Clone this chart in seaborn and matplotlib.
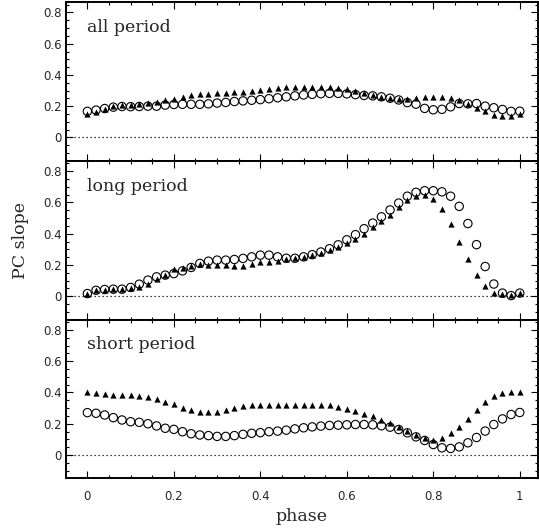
import matplotlib
matplotlib.use("Agg")
import matplotlib.pyplot as plt
import seaborn as sns
from matplotlib.ticker import MultipleLocator, FormatStrFormatter

phase = [0.00, 0.02, 0.04, 0.06, 0.08, 0.10, 0.12, 0.14, 0.16, 0.18,
         0.20, 0.22, 0.24, 0.26, 0.28, 0.30, 0.32, 0.34, 0.36, 0.38,
         0.40, 0.42, 0.44, 0.46, 0.48, 0.50, 0.52, 0.54, 0.56, 0.58,
         0.60, 0.62, 0.64, 0.66, 0.68, 0.70, 0.72, 0.74, 0.76, 0.78,
         0.80, 0.82, 0.84, 0.86, 0.88, 0.90, 0.92, 0.94, 0.96, 0.98, 1.00]

# open circles
all_circ = [0.167, 0.175, 0.185, 0.194, 0.198, 0.197, 0.198, 0.200, 0.200, 0.207,
            0.211, 0.212, 0.212, 0.212, 0.215, 0.220, 0.224, 0.230, 0.234, 0.238,
            0.242, 0.248, 0.254, 0.260, 0.266, 0.272, 0.276, 0.280, 0.282, 0.282,
            0.279, 0.274, 0.269, 0.266, 0.260, 0.251, 0.240, 0.223, 0.213, 0.186,
            0.177, 0.180, 0.196, 0.217, 0.215, 0.217, 0.200, 0.190, 0.179, 0.167, 0.168]
long_circ = [0.017, 0.038, 0.043, 0.045, 0.045, 0.056, 0.077, 0.103, 0.124, 0.135,
             0.145, 0.162, 0.184, 0.210, 0.224, 0.231, 0.231, 0.235, 0.242, 0.252,
             0.263, 0.263, 0.252, 0.243, 0.243, 0.252, 0.266, 0.283, 0.304, 0.329,
             0.361, 0.394, 0.432, 0.468, 0.508, 0.552, 0.596, 0.640, 0.665, 0.675,
             0.675, 0.668, 0.640, 0.575, 0.465, 0.330, 0.190, 0.078, 0.020, 0.004, 0.020]
short_circ = [0.271, 0.267, 0.256, 0.239, 0.224, 0.213, 0.209, 0.200, 0.186, 0.171,
              0.164, 0.149, 0.136, 0.128, 0.124, 0.119, 0.119, 0.124, 0.132, 0.139,
              0.143, 0.149, 0.153, 0.159, 0.167, 0.174, 0.180, 0.185, 0.189, 0.191,
              0.193, 0.195, 0.195, 0.193, 0.187, 0.178, 0.163, 0.142, 0.116, 0.093,
              0.067, 0.046, 0.042, 0.052, 0.078, 0.112, 0.153, 0.195, 0.231, 0.259, 0.272]

# filled triangles
all_tri = [0.150, 0.160, 0.185, 0.200, 0.205, 0.210, 0.215, 0.220, 0.228, 0.238,
           0.249, 0.261, 0.272, 0.278, 0.280, 0.283, 0.285, 0.288, 0.293, 0.298,
           0.305, 0.310, 0.316, 0.323, 0.325, 0.325, 0.324, 0.323, 0.320, 0.317,
           0.310, 0.296, 0.285, 0.270, 0.262, 0.253, 0.245, 0.245, 0.253, 0.260,
           0.260, 0.260, 0.250, 0.240, 0.216, 0.188, 0.171, 0.146, 0.137, 0.137, 0.150]
long_tri = [0.017, 0.038, 0.043, 0.045, 0.045, 0.050, 0.060, 0.081, 0.110, 0.135,
            0.172, 0.180, 0.192, 0.205, 0.200, 0.200, 0.199, 0.194, 0.194, 0.205,
            0.216, 0.220, 0.225, 0.237, 0.243, 0.250, 0.262, 0.279, 0.296, 0.317,
            0.342, 0.369, 0.400, 0.440, 0.480, 0.522, 0.574, 0.616, 0.644, 0.650,
            0.623, 0.560, 0.462, 0.350, 0.235, 0.136, 0.063, 0.021, 0.012, 0.008, 0.021]
short_tri = [0.401, 0.394, 0.390, 0.386, 0.384, 0.382, 0.380, 0.371, 0.358, 0.341,
             0.324, 0.303, 0.286, 0.277, 0.273, 0.277, 0.286, 0.299, 0.311, 0.318,
             0.320, 0.320, 0.320, 0.320, 0.320, 0.320, 0.320, 0.320, 0.318, 0.309,
             0.296, 0.279, 0.262, 0.247, 0.226, 0.203, 0.179, 0.154, 0.128, 0.107,
             0.098, 0.111, 0.139, 0.179, 0.230, 0.286, 0.337, 0.377, 0.399, 0.405, 0.405]

panel_names = ["all period", "long period", "short period"]

sns.set_style("ticks")
plt.rcParams["font.family"] = ["DejaVu Sans"]

fig, axes = plt.subplots(3, 1, figsize=(5.39, 5.31), dpi=100, sharex=True)
fig.subplots_adjust(left=0.122, right=0.998, top=0.996, bottom=0.099, hspace=0)

panels = zip(axes, panel_names, [all_circ, long_circ, short_circ],
             [all_tri, long_tri, short_tri])
for ax, name, circ, tri in panels:
    ax.axhline(0, color="black", lw=0.9, ls=(0, (1, 2.2)), zorder=1)
    sns.scatterplot(x=phase, y=tri, ax=ax, marker="^", s=20,
                    color="black", edgecolor="black", linewidth=0, zorder=3)
    sns.scatterplot(x=phase, y=circ, ax=ax, marker="o", s=36,
                    facecolor="none", edgecolor="black", linewidth=0.8, zorder=4)
    ax.set_xlim(-0.05, 1.042)
    ax.set_ylim(-0.15, 0.866)
    ax.xaxis.set_major_locator(MultipleLocator(0.2))
    ax.xaxis.set_minor_locator(MultipleLocator(0.05))
    ax.yaxis.set_major_locator(MultipleLocator(0.2))
    ax.yaxis.set_minor_locator(MultipleLocator(0.05))
    ax.xaxis.set_major_formatter(FormatStrFormatter("%g"))
    ax.yaxis.set_major_formatter(FormatStrFormatter("%g"))
    ax.tick_params(which="both", direction="in", top=True, right=True,
                   width=0.8, color="black", labelsize=8.5)
    ax.tick_params(which="major", length=5)
    ax.tick_params(which="minor", length=2.5)
    ax.tick_params(axis="y", pad=3)
    ax.tick_params(axis="x", pad=8)
    for sp in ax.spines.values():
        sp.set_linewidth(1.4)
        sp.set_color("black")
    # panel title: x in data units, y in axes units
    ax.text(0.0, 0.895, name, transform=ax.get_xaxis_transform(),
            ha="left", va="top", fontsize=12.5, family="DejaVu Serif")

axes[1].set_ylabel("PC slope", fontsize=12.5, family="DejaVu Serif", labelpad=10)
axes[2].set_xlabel("phase", fontsize=12.5, family="DejaVu Serif", labelpad=4)

fig.savefig("out.png", dpi=100)
